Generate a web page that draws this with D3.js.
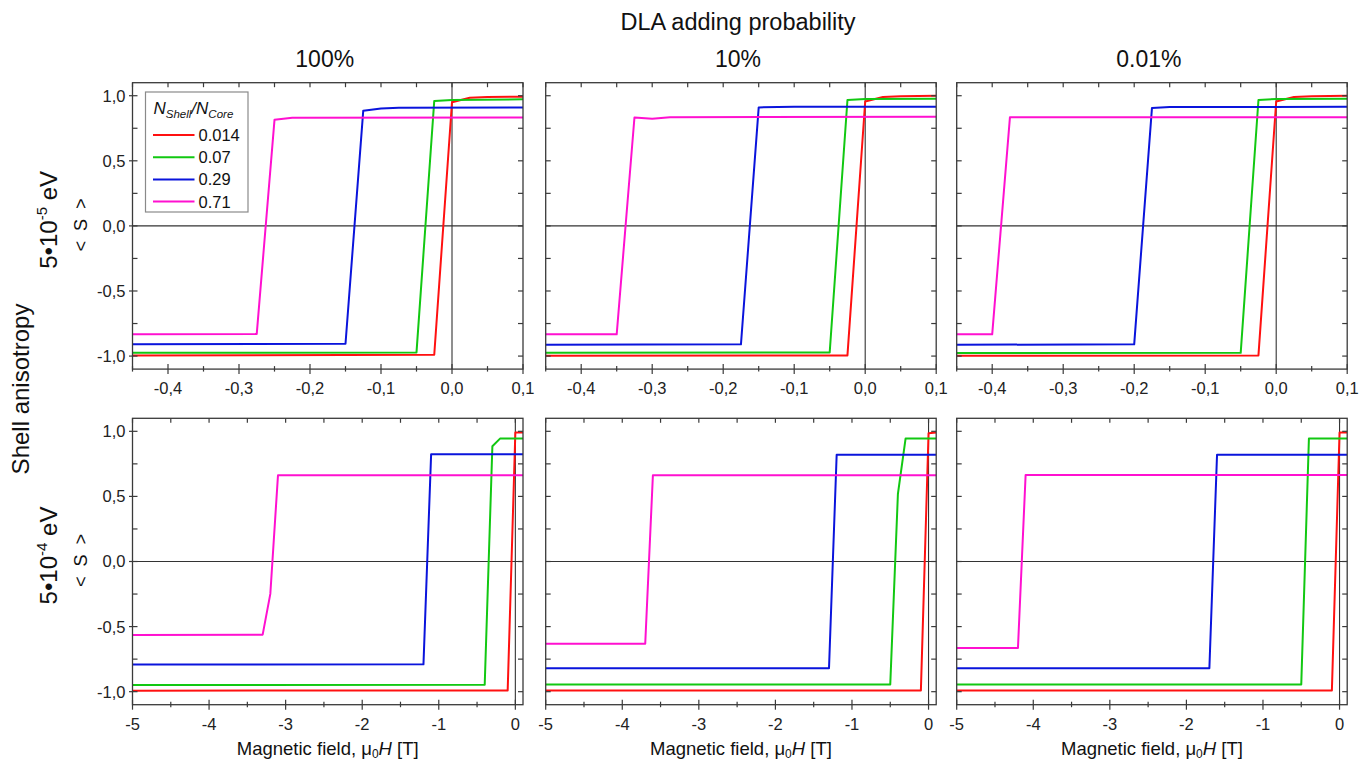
<!DOCTYPE html>
<html>
<head>
<meta charset="utf-8">
<script src="https://cdn.jsdelivr.net/npm/d3@7"></script>
<style>
  html, body { margin: 0; padding: 0; background: #fff; }
  svg { display: block; font-family: "Liberation Sans", Arial, sans-serif; }
</style>
</head>
<body>
<svg id="chart" width="1372" height="763"></svg>
<script>
// ---- Categories -------------------------------------------------------------
const columnTitles = ["100%", "10%", "0.01%"];          // DLA adding probability
const rowExponents = ["-5", "-4"];                       // shell anisotropy 5·10^x eV
const ratioLabels = ["0.014", "0.07", "0.29", "0.71"];   // N_Shell / N_Core
const seriesColors = ["#ff1010", "#12c812", "#0a14dc", "#ff10d0"];

// ---- Tick values ------------------------------------------------------------
const smallFieldTicks = [-0.4, -0.3, -0.2, -0.1, 0, 0.1];
const smallFieldMinor = [-0.45, -0.35, -0.25, -0.15, -0.05, 0.05];
const largeFieldTicks = [-5, -4, -3, -2, -1, 0];
const largeFieldMinor = [-4.5, -3.5, -2.5, -1.5, -0.5];
const spinTicks = [-1, -0.5, 0, 0.5, 1];
const spinMinor = [-0.75, -0.25, 0.25, 0.75];
const smallFieldDomain = [-0.45, 0.1];
const largeFieldDomain = [-5, 0.1];
const spinDomain = [-1.1, 1.1];

// ---- Series: [field (T), <S>] per ratio 0.014, 0.07, 0.29, 0.71 ----------------
// Anisotropy 5·10^-5 eV
const lowK_p100 = [
  [[-0.45, -0.995], [-0.025, -0.99], [0, 0.95], [0.025, 0.985], [0.05, 0.99], [0.1, 0.992]],
  [[-0.45, -0.975], [-0.05, -0.972], [-0.025, 0.96], [0, 0.968], [0.1, 0.972]],
  [[-0.45, -0.91], [-0.15, -0.905], [-0.125, 0.885], [-0.1, 0.902], [-0.075, 0.908], [0.1, 0.91]],
  [[-0.45, -0.833], [-0.275, -0.83], [-0.25, 0.815], [-0.225, 0.83], [0.1, 0.833]]
];
const lowK_p10 = [
  [[-0.45, -0.997], [-0.025, -0.995], [0, 0.956], [0.025, 0.99], [0.05, 0.995], [0.1, 1.0]],
  [[-0.45, -0.974], [-0.05, -0.972], [-0.025, 0.967], [0, 0.975], [0.1, 0.977]],
  [[-0.45, -0.913], [-0.175, -0.91], [-0.15, 0.91], [-0.1, 0.915], [0.1, 0.915]],
  [[-0.45, -0.833], [-0.35, -0.833], [-0.325, 0.833], [-0.3, 0.823], [-0.275, 0.835], [0.1, 0.838]]
];
const lowK_p001 = [
  [[-0.45, -0.997], [-0.025, -0.995], [0, 0.956], [0.025, 0.99], [0.05, 0.995], [0.1, 1.0]],
  [[-0.45, -0.977], [-0.05, -0.975], [-0.025, 0.967], [0, 0.975], [0.1, 0.977]],
  [[-0.45, -0.913], [-0.2, -0.91], [-0.175, 0.905], [-0.15, 0.913], [0.1, 0.915]],
  [[-0.45, -0.833], [-0.4, -0.833], [-0.375, 0.835], [0.1, 0.835]]
];
// Anisotropy 5·10^-4 eV
const highK_p100 = [
  [[-5, -0.992], [-0.1, -0.99], [0, 0.99], [0.1, 0.99]],
  [[-5, -0.949], [-0.4, -0.947], [-0.3, 0.885], [-0.2, 0.944], [0.1, 0.944]],
  [[-5, -0.792], [-1.2, -0.79], [-1.1, 0.823], [0.1, 0.823]],
  [[-5, -0.564], [-3.3, -0.562], [-3.2, -0.249], [-3.1, 0.662], [0.1, 0.662]]
];
const highK_p10 = [
  [[-5, -0.99], [-0.1, -0.99], [0, 0.985], [0.1, 0.99]],
  [[-5, -0.944], [-0.5, -0.944], [-0.4, 0.52], [-0.3, 0.944], [0.1, 0.944]],
  [[-5, -0.82], [-1.3, -0.82], [-1.2, 0.82], [0.1, 0.82]],
  [[-5, -0.631], [-3.7, -0.631], [-3.6, 0.662], [0.1, 0.662]]
];
const highK_p001 = [
  [[-5, -0.99], [-0.1, -0.99], [0, 0.99], [0.1, 0.99]],
  [[-5, -0.944], [-0.5, -0.944], [-0.4, 0.944], [0.1, 0.944]],
  [[-5, -0.82], [-1.7, -0.82], [-1.6, 0.82], [0.1, 0.82]],
  [[-5, -0.664], [-4.2, -0.664], [-4.1, 0.664], [0.1, 0.664]]
];

// ---- Layout -----------------------------------------------------------------
const colLeft = [132.5, 545.7, 956.7];
const panelW = 390.5;
const rowTop = [82.7, 418.3];
const panelH = 286.4;
const frameColor = "#3a3a3a";

const panels = [
  { row: 0, col: 0, data: lowK_p100 },
  { row: 0, col: 1, data: lowK_p10 },
  { row: 0, col: 2, data: lowK_p001 },
  { row: 1, col: 0, data: highK_p100 },
  { row: 1, col: 1, data: highK_p10 },
  { row: 1, col: 2, data: highK_p001 }
];

const locale = d3.formatLocale({ decimal: ",", thousands: ".", grouping: [3], currency: ["", ""], minus: "-" });
const fmt1 = locale.format(".1f");
const fmt0 = locale.format("d");

const svg = d3.select("#chart");
const defs = svg.append("defs");

panels.forEach((p, i) => {
  const x0 = colLeft[p.col], y0 = rowTop[p.row];
  const small = p.row === 0;
  const x = d3.scaleLinear().domain(small ? smallFieldDomain : largeFieldDomain).range([x0, x0 + panelW]);
  const y = d3.scaleLinear().domain(spinDomain).range([y0 + panelH, y0]);
  const majorX = small ? smallFieldTicks : largeFieldTicks;
  const minorX = small ? smallFieldMinor : largeFieldMinor;
  const g = svg.append("g");

  defs.append("clipPath").attr("id", "clip" + i)
    .append("rect").attr("x", x0).attr("y", y0).attr("width", panelW).attr("height", panelH);

  // zero reference lines
  g.append("line").attr("x1", x0).attr("x2", x0 + panelW).attr("y1", y(0)).attr("y2", y(0))
    .attr("stroke", "#333").attr("stroke-width", 1.1);
  g.append("line").attr("x1", x(0)).attr("x2", x(0)).attr("y1", y0).attr("y2", y0 + panelH)
    .attr("stroke", "#333").attr("stroke-width", 1.1);

  // curves
  const line = d3.line().x(d => x(d[0])).y(d => y(d[1]));
  g.append("g").attr("clip-path", `url(#clip${i})`)
    .selectAll("path").data(p.data).join("path")
    .attr("d", line).attr("fill", "none")
    .attr("stroke", (d, k) => seriesColors[k]).attr("stroke-width", 2)
    .attr("stroke-linejoin", "round");

  // frame
  g.append("rect").attr("x", x0).attr("y", y0).attr("width", panelW).attr("height", panelH)
    .attr("fill", "none").attr("stroke", frameColor).attr("stroke-width", 1.3);

  const tk = g.append("g").attr("stroke", frameColor).attr("stroke-width", 1.2);
  const yB = y0 + panelH;
  // bottom ticks (crossing the frame)
  tk.selectAll(null).data(majorX).join("line")
    .attr("x1", d => x(d)).attr("x2", d => x(d)).attr("y1", yB - 5).attr("y2", yB + 5);
  tk.selectAll(null).data(minorX).join("line")
    .attr("x1", d => x(d)).attr("x2", d => x(d)).attr("y1", yB - 3).attr("y2", yB + 2.5);
  // top ticks (inward)
  tk.selectAll(null).data(majorX.concat(minorX)).join("line")
    .attr("x1", d => x(d)).attr("x2", d => x(d)).attr("y1", y0).attr("y2", y0 + 4.5);
  // left and right ticks (inward)
  const yAll = spinTicks.concat(spinMinor);
  tk.selectAll(null).data(yAll).join("line")
    .attr("x1", x0).attr("x2", x0 + 5).attr("y1", d => y(d)).attr("y2", d => y(d));
  tk.selectAll(null).data(yAll).join("line")
    .attr("x1", x0 + panelW - 5).attr("x2", x0 + panelW).attr("y1", d => y(d)).attr("y2", d => y(d));

  // x tick labels
  g.selectAll(null).data(majorX).join("text")
    .attr("x", d => x(d)).attr("y", yB + 25)
    .attr("text-anchor", "middle").attr("font-size", 16.5).attr("fill", "#222")
    .text(d => small ? fmt1(d) : fmt0(d));

  if (p.col === 0) {
    // outward major ticks and value labels on the left axis
    tk.selectAll(null).data(spinTicks).join("line")
      .attr("x1", x0 - 3.5).attr("x2", x0).attr("y1", d => y(d)).attr("y2", d => y(d));
    g.selectAll(null).data(spinTicks).join("text")
      .attr("x", x0 - 7).attr("y", d => y(d)).attr("dy", "0.36em")
      .attr("text-anchor", "end").attr("font-size", 16.5).attr("fill", "#222")
      .text(d => fmt1(d));

    // row labels: anisotropy value and <S>
    const cy = y0 + panelH / 2;
    const lab = g.append("text")
      .attr("transform", `translate(57,${cy - 6}) rotate(-90)`)
      .attr("text-anchor", "middle").attr("font-size", 24).attr("fill", "#111");
    lab.append("tspan").text("5\u202210");
    lab.append("tspan").attr("dy", -10).attr("font-size", 15).text(rowExponents[p.row]);
    lab.append("tspan").attr("dy", 10).text(" eV");

    g.append("text")
      .attr("transform", `translate(87,${cy - 1}) rotate(-90)`)
      .attr("text-anchor", "middle").attr("font-size", 18).attr("fill", "#111")
      .attr("xml:space", "preserve").style("white-space", "pre")
      .text("<  S  >");
  }

  if (!small) {
    const t = g.append("text")
      .attr("x", x0 + panelW / 2).attr("y", 755)
      .attr("text-anchor", "middle").attr("font-size", 18.5).attr("fill", "#111");
    t.append("tspan").text("Magnetic field, \u03bc");
    t.append("tspan").attr("dy", 3).attr("font-size", 12).text("0");
    t.append("tspan").attr("dy", -3).attr("font-style", "italic").text("H");
    t.append("tspan").text(" [T]");
  } else {
    svg.append("text")
      .attr("x", x0 + panelW / 2 - 3).attr("y", 67)
      .attr("text-anchor", "middle").attr("font-size", 23).attr("fill", "#111")
      .text(columnTitles[p.col]);
  }
});

// overall titles
svg.append("text").attr("x", 738).attr("y", 30)
  .attr("text-anchor", "middle").attr("font-size", 23.5).attr("fill", "#111")
  .text("DLA adding probability");
svg.append("text").attr("transform", "translate(29,389) rotate(-90)")
  .attr("text-anchor", "middle").attr("font-size", 24).attr("fill", "#111")
  .text("Shell anisotropy");

// legend in the first panel
const lg = svg.append("g");
lg.append("rect").attr("x", 145.5).attr("y", 92).attr("width", 102.5).attr("height", 120)
  .attr("fill", "#fff").attr("stroke", "#8a8a8a").attr("stroke-width", 1.2);
const lt = lg.append("text").attr("x", 153.5).attr("y", 114)
  .attr("font-size", 17).attr("font-style", "italic").attr("fill", "#111");
lt.append("tspan").text("N");
lt.append("tspan").attr("dy", 4).attr("font-size", 11.5).text("Shell");
lt.append("tspan").attr("dy", -4).text("/N");
lt.append("tspan").attr("dy", 4).attr("font-size", 11.5).text("Core");
const rowsY = [135, 157.2, 179.4, 201.6];
ratioLabels.forEach((r, k) => {
  lg.append("line").attr("x1", 153).attr("x2", 194.5).attr("y1", rowsY[k]).attr("y2", rowsY[k])
    .attr("stroke", seriesColors[k]).attr("stroke-width", 2);
  lg.append("text").attr("x", 198.5).attr("y", rowsY[k]).attr("dy", "0.36em")
    .attr("font-size", 16.5).attr("fill", "#111").text(r);
});
</script>
</body>
</html>
